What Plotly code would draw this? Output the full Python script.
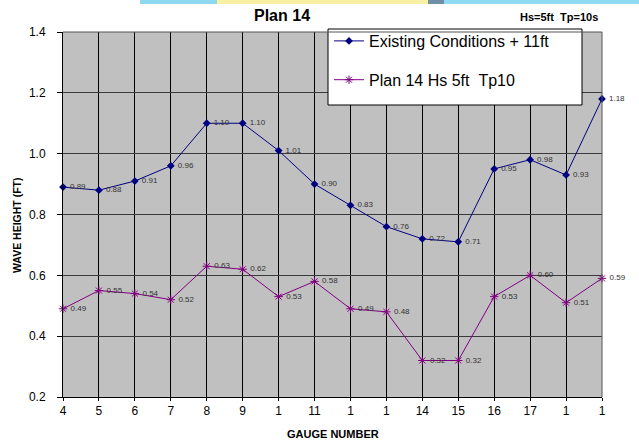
import plotly.graph_objects as go

# Gauge positions along the x axis and their printed labels
gauge_labels = ["4", "5", "6", "7", "8", "9", "1", "11", "1", "1", "14", "15", "16", "17", "1", "1"]
gauge_pos = list(range(len(gauge_labels)))

# Wave heights (ft)
existing_11ft = [0.89, 0.88, 0.91, 0.96, 1.10, 1.10, 1.01, 0.90, 0.83, 0.76, 0.72, 0.71, 0.95, 0.98, 0.93, 1.18]
plan14_hs5_tp10 = [0.49, 0.55, 0.54, 0.52, 0.63, 0.62, 0.53, 0.58, 0.49, 0.48, 0.32, 0.32, 0.53, 0.60, 0.51, 0.59]

W, H = 639, 444
L, R, T, B = 63, 37, 32, 47
PW, PH = W - L - R, H - T - B


def px_x(x):
    return (x - L) / PW


def px_y(y):
    return (H - B - y) / PH


FONT = "Liberation Sans, Arial, sans-serif"

fig = go.Figure()

fig.add_trace(go.Scatter(
    x=gauge_pos, y=existing_11ft,
    mode="lines+markers+text",
    name="Existing Conditions + 11ft",
    legendgroup="a",
    line=dict(color="#000080", width=1),
    marker=dict(symbol="diamond", size=6, color="#000080"),
    text=[f"\u00a0{v:.2f}" for v in existing_11ft],
    textposition="middle right",
    textfont=dict(size=8, color="#333333", family=FONT),
    cliponaxis=False,
))

fig.add_trace(go.Scatter(
    x=gauge_pos, y=plan14_hs5_tp10,
    mode="lines+markers+text",
    name="Plan 14 Hs 5ft\u00a0\u00a0Tp10",
    legendgroup="b",
    line=dict(color="#800080", width=1),
    marker=dict(symbol="asterisk-open", size=7, color="#800080",
                line=dict(color="#800080", width=1)),
    text=[f"\u00a0{v:.2f}" for v in plan14_hs5_tp10],
    textposition="middle right",
    textfont=dict(size=8, color="#333333", family=FONT),
    cliponaxis=False,
))

shapes = [
    # legend frame
    dict(type="rect", xref="paper", yref="paper",
         x0=px_x(328), x1=px_x(582), y0=px_y(105), y1=px_y(29),
         fillcolor="white", line=dict(color="black", width=1), layer="above"),
    # strip of banner artwork along the top edge
    dict(type="rect", xref="paper", yref="paper", x0=px_x(140), x1=px_x(217),
         y0=px_y(4), y1=px_y(0), fillcolor="#8fd9f0", line=dict(width=0)),
    dict(type="rect", xref="paper", yref="paper", x0=px_x(217), x1=px_x(428),
         y0=px_y(4), y1=px_y(0), fillcolor="#f8f1a4", line=dict(width=0)),
    dict(type="rect", xref="paper", yref="paper", x0=px_x(428), x1=px_x(444),
         y0=px_y(4), y1=px_y(0), fillcolor="#6f8fa8", line=dict(width=0)),
    dict(type="rect", xref="paper", yref="paper", x0=px_x(444), x1=px_x(639),
         y0=px_y(4), y1=px_y(0), fillcolor="#8fdcf2", line=dict(width=0)),
    # plot frame top and right
    dict(type="line", xref="paper", yref="paper", x0=0, x1=1, y0=1, y1=1,
         line=dict(color="#555555", width=1)),
    dict(type="line", xref="paper", yref="paper", x0=1, x1=1, y0=0, y1=1,
         line=dict(color="#555555", width=1)),
]

annotations = [
    dict(text="<b>Plan 14</b>", xref="paper", yref="paper", x=px_x(282), y=px_y(15),
         showarrow=False, font=dict(size=16, color="black", family=FONT),
         xanchor="center", yanchor="middle"),
    dict(text="<b>Hs=5ft\u00a0\u00a0Tp=10s</b>", xref="paper", yref="paper", x=px_x(518), y=px_y(17),
         showarrow=False, font=dict(size=11, color="black", family=FONT),
         xanchor="left", yanchor="middle"),
    dict(text="<b>GAUGE NUMBER</b>", xref="paper", yref="paper", x=px_x(333), y=px_y(434),
         showarrow=False, font=dict(size=11, color="black", family=FONT),
         xanchor="center", yanchor="middle"),
    dict(text="<b>WAVE HEIGHT (FT)</b>", xref="paper", yref="paper", x=px_x(17), y=px_y(226),
         showarrow=False, textangle=-90, font=dict(size=10.5, color="black", family=FONT),
         xanchor="center", yanchor="middle"),
]

fig.update_layout(
    width=W, height=H,
    margin=dict(l=L, r=R, t=T, b=B, pad=0),
    paper_bgcolor="white",
    plot_bgcolor="#c0c0c0",
    font=dict(family=FONT, size=12, color="black"),
    showlegend=True,
    legend=dict(
        x=px_x(329), y=px_y(24), xanchor="left", yanchor="top",
        bgcolor="rgba(0,0,0,0)", borderwidth=0,
        font=dict(size=16, color="black", family=FONT),
        traceorder="grouped", tracegroupgap=15,
        itemwidth=30,
    ),
    shapes=shapes,
    annotations=annotations,
)

fig.update_xaxes(
    range=[0, 15],
    tickmode="array", tickvals=gauge_pos, ticktext=gauge_labels,
    showgrid=True, gridcolor="#000000", gridwidth=1,
    showline=True, linecolor="black", linewidth=1,
    ticks="outside", ticklen=3, tickcolor="black",
    tickfont=dict(size=12, color="black"),
    zeroline=False,
)
fig.update_yaxes(
    range=[0.2, 1.4],
    tickmode="array", tickvals=[0.2, 0.4, 0.6, 0.8, 1.0, 1.2, 1.4],
    ticktext=["0.2", "0.4", "0.6", "0.8", "1.0", "1.2", "1.4"],
    showgrid=True, gridcolor="#3a3a3a", gridwidth=1,
    showline=True, linecolor="black", linewidth=1,
    ticks="outside", ticklen=5, tickcolor="black",
    ticklabelstandoff=9,
    tickfont=dict(size=12, color="black"),
    zeroline=False,
)

fig.write_html("out.html")
